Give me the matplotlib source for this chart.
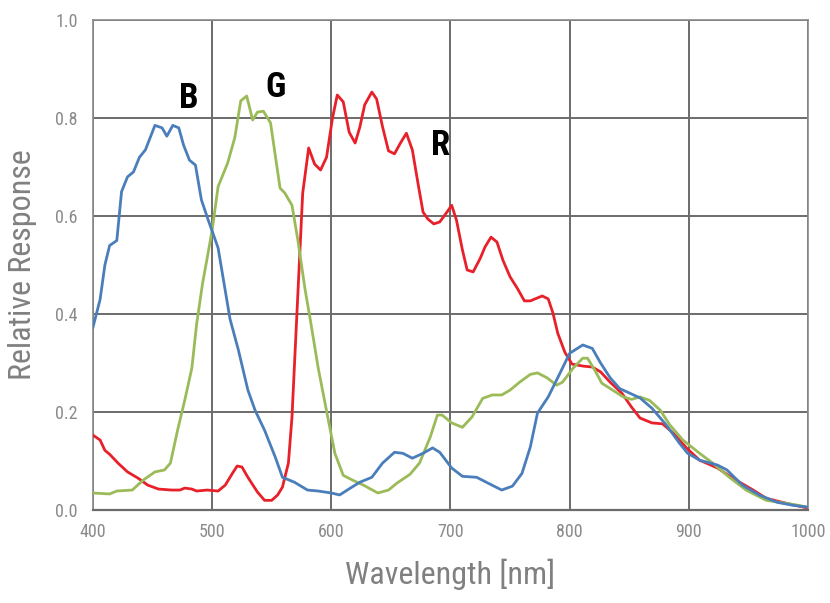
import matplotlib
matplotlib.use("Agg")
import matplotlib.pyplot as plt
from matplotlib import font_manager

# Blue channel
b_wl = [400, 406, 410, 414, 420, 424, 429, 434, 439, 444, 452, 458, 462, 467, 472, 476, 481, 486, 491,
        497, 505, 515, 522, 530, 536, 544, 553, 559, 569, 580, 589, 600, 607, 616, 624, 634, 643, 653,
        660, 668, 677, 685, 691, 701, 710, 722, 730, 743, 752, 760, 767, 773, 782, 792, 800, 811, 819,
        826, 834, 842, 851, 859, 869, 881, 892, 899, 909, 924, 932, 945, 959, 974, 987, 1000]
b_val = [0.373, 0.43, 0.50, 0.54, 0.55, 0.65, 0.68, 0.69, 0.72, 0.735, 0.785, 0.78, 0.763, 0.785, 0.78,
         0.745, 0.714, 0.704, 0.633, 0.59, 0.535, 0.39, 0.327, 0.245, 0.204, 0.163, 0.108, 0.067, 0.057,
         0.041, 0.039, 0.035, 0.031, 0.045, 0.057, 0.067, 0.096, 0.118, 0.116, 0.106, 0.116, 0.127,
         0.118, 0.086, 0.069, 0.067, 0.057, 0.041, 0.049, 0.075, 0.129, 0.198, 0.231, 0.28, 0.32,
         0.337, 0.33, 0.30, 0.27, 0.248, 0.238, 0.229, 0.208, 0.174, 0.137, 0.116, 0.102, 0.092, 0.082,
         0.051, 0.031, 0.016, 0.01, 0.006]

# Green channel
g_wl = [400, 414, 420, 433, 442, 452, 460, 465, 471, 477, 483, 487, 492, 497, 500, 505, 513, 519, 524,
        529, 534, 538, 543, 549, 557, 561, 567, 572, 578, 582, 589, 597, 603, 610, 618, 627, 639, 648,
        655, 666, 674, 683, 689, 693, 701, 710, 718, 727, 735, 743, 750, 758, 767, 773, 781, 789, 794,
        803, 811, 815, 821, 827, 836, 845, 852, 859, 867, 876, 884, 895, 909, 920, 934, 948, 965, 987,
        1000]
g_val = [0.035, 0.033, 0.039, 0.041, 0.061, 0.078, 0.082, 0.096, 0.163, 0.224, 0.29, 0.38, 0.463, 0.53,
         0.571, 0.66, 0.708, 0.76, 0.835, 0.845, 0.796, 0.812, 0.814, 0.79, 0.657, 0.647, 0.622, 0.55,
         0.45, 0.394, 0.29, 0.19, 0.116, 0.071, 0.061, 0.051, 0.035, 0.041, 0.055, 0.073, 0.096, 0.149,
         0.194, 0.194, 0.178, 0.169, 0.19, 0.228, 0.235, 0.235, 0.245, 0.261, 0.277, 0.28, 0.27, 0.255,
         0.261, 0.29, 0.31, 0.31, 0.286, 0.259, 0.245, 0.231, 0.226, 0.231, 0.224, 0.204, 0.174, 0.143,
         0.116, 0.096, 0.067, 0.041, 0.02, 0.012, 0.006]

# Red channel
r_wl = [400, 406, 410, 414, 421, 429, 438, 446, 455, 466, 473, 477, 483, 487, 496, 505, 511, 517, 521,
        525, 530, 538, 544, 550, 555, 559, 564, 567, 571, 576, 581, 586, 591, 596, 601, 605, 610, 615,
        620, 624, 628, 634, 638, 643, 648, 653, 658, 663, 668, 673, 677, 681, 686, 691, 697, 701, 705,
        710, 714, 719, 725, 729, 734, 739, 744, 750, 756, 762, 767, 777, 782, 786, 790, 796, 802, 811,
        819, 826, 834, 844, 852, 859, 869, 878, 887, 898, 909, 924, 937, 954, 965, 982, 1000]
r_val = [0.153, 0.143, 0.122, 0.114, 0.096, 0.078, 0.065, 0.051, 0.043, 0.041, 0.041, 0.045, 0.043,
         0.039, 0.041, 0.039, 0.051, 0.075, 0.09, 0.088, 0.067, 0.037, 0.02, 0.02, 0.031, 0.047, 0.096,
         0.19, 0.394, 0.647, 0.739, 0.706, 0.694, 0.72, 0.80, 0.847, 0.833, 0.771, 0.749, 0.782, 0.827,
         0.853, 0.839, 0.782, 0.733, 0.727, 0.749, 0.769, 0.735, 0.663, 0.608, 0.594, 0.584, 0.588,
         0.608, 0.622, 0.592, 0.531, 0.49, 0.486, 0.514, 0.537, 0.557, 0.547, 0.51, 0.476, 0.453, 0.427,
         0.427, 0.437, 0.431, 0.402, 0.361, 0.322, 0.298, 0.294, 0.292, 0.282, 0.261, 0.238, 0.21,
         0.188, 0.178, 0.176, 0.157, 0.127, 0.102, 0.086, 0.065, 0.041, 0.024, 0.014, 0.004]

labels = ["B", "G", "R"]
label_pos = [(480, 0.84), (553, 0.863), (692, 0.743)]
x_ticks = [400, 500, 600, 700, 800, 900, 1000]
y_ticks = [0.0, 0.2, 0.4, 0.6, 0.8, 1.0]

# pick a condensed family if one is installed
names = {f.name for f in font_manager.fontManager.ttflist}
cands = ["Liberation Sans Narrow", "DejaVu Sans Condensed", "Roboto Condensed",
         "Open Sans Condensed", "Noto Sans Condensed", "Roboto", "DejaVu Sans"]
narrow = [c for c in cands if c in names]
FONT = narrow + ["DejaVu Sans"]
plt.rcParams["font.family"] = FONT

fig = plt.figure(figsize=(8.30, 6.03), dpi=100)
ax = fig.add_axes([0.112, 0.154, 0.8615, 0.8128])

ax.plot(r_wl, r_val, color="#e8202a", lw=2.0, zorder=3)
ax.plot(g_wl, g_val, color="#9bbb59", lw=2.0, zorder=3)
ax.plot(b_wl, b_val, color="#4a7ebb", lw=2.0, zorder=4)

for t, (x, y) in zip(labels, label_pos):
    ax.text(x, y, t, fontsize=25, fontweight="bold", color="black",
            ha="center", va="center", fontstretch="condensed")

ax.set_xlim(400, 1000)
ax.set_ylim(0, 1.0)
ax.set_xticks(x_ticks)
ax.set_yticks(y_ticks)
ax.set_xticklabels([str(v) for v in x_ticks])
ax.set_yticklabels([f"{v:.1f}" for v in y_ticks])
ax.grid(True, color="#6b6b6b", lw=1.4)
ax.set_axisbelow(True)
for s in ax.spines.values():
    s.set_color("#8a8a8a")
    s.set_linewidth(1.2)
ax.spines["bottom"].set_color("#6b6b6b")
ax.spines["bottom"].set_linewidth(1.6)
ax.tick_params(axis="both", length=0, labelsize=13, labelcolor="#8a8a8a")
ax.tick_params(axis="x", pad=9)
ax.tick_params(axis="y", pad=11)

ax.set_xlabel("Wavelength [nm]", fontsize=23, color="#808080", labelpad=13)
ax.set_ylabel("Relative Response", fontsize=23, color="#808080", labelpad=13)

fig.savefig("out.png", dpi=100)
